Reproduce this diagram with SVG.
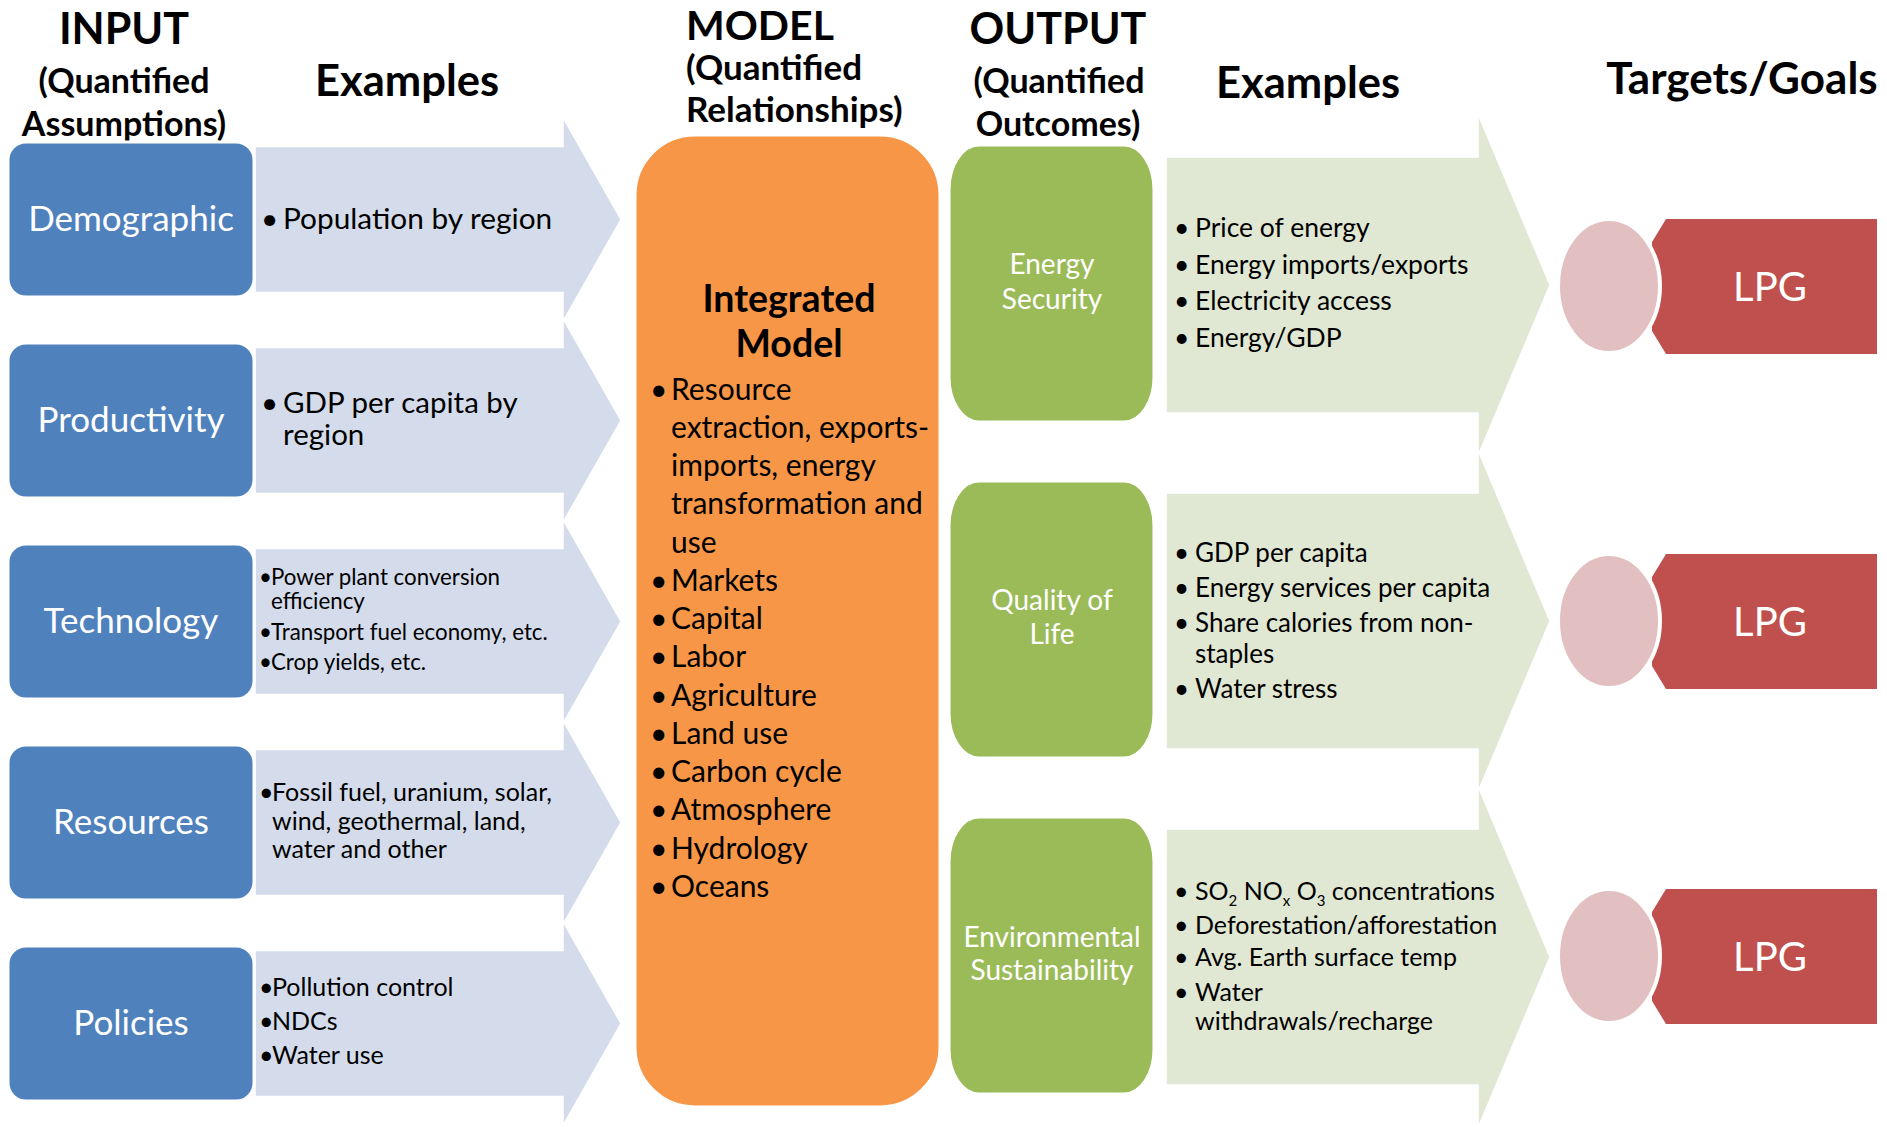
<svg xmlns="http://www.w3.org/2000/svg" width="1887" height="1127" viewBox="0 0 1887 1127">
<style>
text{font-family:Lato,"Open Sans","Liberation Sans",sans-serif}
.hd{font-weight:bold;fill:#000}
.h1{font-size:43px}
.h2{font-size:34px}
.lbl{fill:#fff;font-size:35px;text-anchor:middle}
.glbl{fill:#fff;font-size:28px;text-anchor:middle}
.lpg{fill:#fff;font-size:40px;text-anchor:middle}
.ex{fill:#000}
.blue{fill:#4F81BD;stroke:#fff;stroke-width:3}
.lav{fill:#D4DCEB;stroke:#fff;stroke-width:1.5}
.lgr{fill:#E0E8D4;stroke:#fff;stroke-width:1.5}
.grn{fill:#9BBB59;stroke:#fff;stroke-width:3}
.red{fill:#C0504D}
.pink{fill:#E2C0C2;stroke:#fff;stroke-width:4}
</style>

<g id="headers">
<text class="hd h1" x="124" y="44" text-anchor="middle">INPUT</text>
<text class="hd h2" x="124" y="93" text-anchor="middle">(Quantified</text>
<text class="hd h2" x="124" y="136" text-anchor="middle">Assumptions)</text>
<text class="hd" font-size="43.5" x="407" y="96" text-anchor="middle">Examples</text>
<text class="hd" font-size="41" x="686" y="40">MODEL</text>
<text class="hd" font-size="35" x="686" y="80">(Quantified</text>
<text class="hd" font-size="35" x="686" y="122">Relationships)</text>
<text class="hd h1" x="1058" y="44" text-anchor="middle">OUTPUT</text>
<text class="hd h2" x="1059" y="93" text-anchor="middle">(Quantified</text>
<text class="hd h2" x="1058" y="136" text-anchor="middle">Outcomes)</text>
<text class="hd" font-size="43.5" x="1308" y="98" text-anchor="middle">Examples</text>
<text class="hd" font-size="44" x="1742" y="94" text-anchor="middle">Targets/Goals</text>
</g>

<g id="connectors">
<path id="in-arrow-1" class="lav" d="M255,146.5 L563,146.5 L563,117.5 L621,219.5 L563,321.5 L563,292.5 L255,292.5 Z"/>
<path id="in-arrow-2" class="lav" d="M255,347.5 L563,347.5 L563,318.5 L621,420.5 L563,522.5 L563,493.5 L255,493.5 Z"/>
<path id="in-arrow-3" class="lav" d="M255,548.5 L563,548.5 L563,519.5 L621,621.5 L563,723.5 L563,694.5 L255,694.5 Z"/>
<path id="in-arrow-4" class="lav" d="M255,749.5 L563,749.5 L563,720.5 L621,822.5 L563,924.5 L563,895.5 L255,895.5 Z"/>
<path id="in-arrow-5" class="lav" d="M255,950.5 L563,950.5 L563,921.5 L621,1023.5 L563,1125.5 L563,1096.5 L255,1096.5 Z"/>
<path id="out-arrow-1" class="lgr" d="M1166,157 L1478,157 L1478,114 L1550,285 L1478,456 L1478,413 L1166,413 Z"/>
<path id="out-arrow-2" class="lgr" d="M1166,493 L1478,493 L1478,450 L1550,621 L1478,792 L1478,749 L1166,749 Z"/>
<path id="out-arrow-3" class="lgr" d="M1166,829 L1478,829 L1478,786 L1550,957 L1478,1128 L1478,1085 L1166,1085 Z"/>
</g>

<g id="input-examples" class="ex">
<text font-size="29.8"><tspan x="261" y="229">•</tspan><tspan x="283" y="229">Population by region</tspan></text>
<text font-size="29.5"><tspan x="261" y="413">•</tspan><tspan x="283" y="413">GDP per capita by</tspan><tspan x="283" y="445">region</tspan></text>
<text font-size="22.3"><tspan x="259" y="585">•</tspan><tspan x="271" y="585">Power plant conversion</tspan><tspan x="271" y="609">efficiency</tspan><tspan x="259" y="640">•</tspan><tspan x="271" y="640">Transport fuel economy, etc.</tspan><tspan x="259" y="670">•</tspan><tspan x="271" y="670">Crop yields, etc.</tspan></text>
<text font-size="25"><tspan x="259" y="801">•</tspan><tspan x="272" y="801">Fossil fuel, uranium, solar,</tspan><tspan x="272" y="830">wind, geothermal, land,</tspan><tspan x="272" y="858">water and other</tspan></text>
<text font-size="25"><tspan x="259" y="996">•</tspan><tspan x="272" y="996">Pollution control</tspan><tspan x="259" y="1030">•</tspan><tspan x="272" y="1030">NDCs</tspan><tspan x="259" y="1064">•</tspan><tspan x="272" y="1064">Water use</tspan></text>
</g>

<g id="demographic"><rect class="blue" x="8" y="142" width="246" height="155" rx="18"/><text class="lbl" x="131" y="231">Demographic</text></g>
<g id="productivity"><rect class="blue" x="8" y="343" width="246" height="155" rx="18"/><text class="lbl" x="131" y="432">Productivity</text></g>
<g id="technology"><rect class="blue" x="8" y="544" width="246" height="155" rx="18"/><text class="lbl" x="131" y="633">Technology</text></g>
<g id="resources"><rect class="blue" x="8" y="745" width="246" height="155" rx="18"/><text class="lbl" x="131" y="834">Resources</text></g>
<g id="policies"><rect class="blue" x="8" y="946" width="246" height="155" rx="18"/><text class="lbl" x="131" y="1035">Policies</text></g>

<g id="integrated-model">
<rect x="635" y="135" width="305" height="972" rx="60" fill="#F79646" stroke="#fff" stroke-width="3"/>
<text class="hd" font-size="37.5" x="789" y="312" text-anchor="middle">Integrated</text>
<text class="hd" font-size="37.5" x="789" y="357" text-anchor="middle">Model</text>
<text font-size="30" fill="#000">
<tspan x="650" y="400">•</tspan><tspan x="671" y="400">Resource</tspan>
<tspan x="671" y="438">extraction, exports-</tspan>
<tspan x="671" y="476">imports, energy</tspan>
<tspan x="671" y="514">transformation and</tspan>
<tspan x="671" y="553">use</tspan>
<tspan x="650" y="591">•</tspan><tspan x="671" y="591">Markets</tspan>
<tspan x="650" y="629">•</tspan><tspan x="671" y="629">Capital</tspan>
<tspan x="650" y="667">•</tspan><tspan x="671" y="667">Labor</tspan>
<tspan x="650" y="706">•</tspan><tspan x="671" y="706">Agriculture</tspan>
<tspan x="650" y="744">•</tspan><tspan x="671" y="744">Land use</tspan>
<tspan x="650" y="782">•</tspan><tspan x="671" y="782">Carbon cycle</tspan>
<tspan x="650" y="820">•</tspan><tspan x="671" y="820">Atmosphere</tspan>
<tspan x="650" y="859">•</tspan><tspan x="671" y="859">Hydrology</tspan>
<tspan x="650" y="897">•</tspan><tspan x="671" y="897">Oceans</tspan>
</text>
</g>

<g id="energy-security"><rect class="grn" x="949" y="145" width="205" height="277" rx="30" ry="45"/><text class="glbl" x="1052" y="274">Energy</text><text class="glbl" x="1052" y="309">Security</text></g>
<g id="quality-of-life"><rect class="grn" x="949" y="481" width="205" height="277" rx="30" ry="45"/><text class="glbl" x="1052" y="610">Quality of</text><text class="glbl" x="1052" y="644">Life</text></g>
<g id="environmental-sustainability"><rect class="grn" x="949" y="817" width="205" height="277" rx="30" ry="45"/><text class="glbl" font-size="26" x="1052" y="947">Environmental</text><text class="glbl" font-size="26" x="1052" y="980">Sustainability</text></g>

<g id="output-examples" class="ex">
<text font-size="26.5"><tspan x="1174" y="237">•</tspan><tspan x="1195" y="237">Price of energy</tspan><tspan x="1174" y="274">•</tspan><tspan x="1195" y="274">Energy imports/exports</tspan><tspan x="1174" y="310">•</tspan><tspan x="1195" y="310">Electricity access</tspan><tspan x="1174" y="347">•</tspan><tspan x="1195" y="347">Energy/GDP</tspan></text>
<text font-size="26"><tspan x="1174" y="562">•</tspan><tspan x="1195" y="562">GDP per capita</tspan><tspan x="1174" y="597">•</tspan><tspan x="1195" y="597">Energy services per capita</tspan><tspan x="1174" y="632">•</tspan><tspan x="1195" y="632">Share calories from non-</tspan><tspan x="1195" y="663">staples</tspan><tspan x="1174" y="698">•</tspan><tspan x="1195" y="698">Water stress</tspan></text>
<text font-size="25"><tspan x="1174" y="900">•</tspan><tspan x="1195" y="900">SO</tspan><tspan font-size="15" dy="6">2</tspan><tspan dy="-6"> NO</tspan><tspan font-size="15" dy="6">x</tspan><tspan dy="-6"> O</tspan><tspan font-size="15" dy="6">3</tspan><tspan dy="-6"> concentrations</tspan><tspan x="1174" y="934">•</tspan><tspan x="1195" y="934">Deforestation/afforestation</tspan><tspan x="1174" y="966">•</tspan><tspan x="1195" y="966">Avg. Earth surface temp</tspan><tspan x="1174" y="1001">•</tspan><tspan x="1195" y="1001">Water</tspan><tspan x="1195" y="1030">withdrawals/recharge</tspan></text>
</g>

<g id="target-1"><polygon class="red" points="1666,219 1877,219 1877,354 1666,354 1652,331 1652,242"/><ellipse class="pink" cx="1609" cy="286" rx="51" ry="67"/><text class="lpg" x="1770" y="301">LPG</text></g>
<g id="target-2"><polygon class="red" points="1666,554 1877,554 1877,689 1666,689 1652,666 1652,577"/><ellipse class="pink" cx="1609" cy="621" rx="51" ry="67"/><text class="lpg" x="1770" y="636">LPG</text></g>
<g id="target-3"><polygon class="red" points="1666,889 1877,889 1877,1024 1666,1024 1652,1001 1652,912"/><ellipse class="pink" cx="1609" cy="956" rx="51" ry="67"/><text class="lpg" x="1770" y="971">LPG</text></g>
</svg>
